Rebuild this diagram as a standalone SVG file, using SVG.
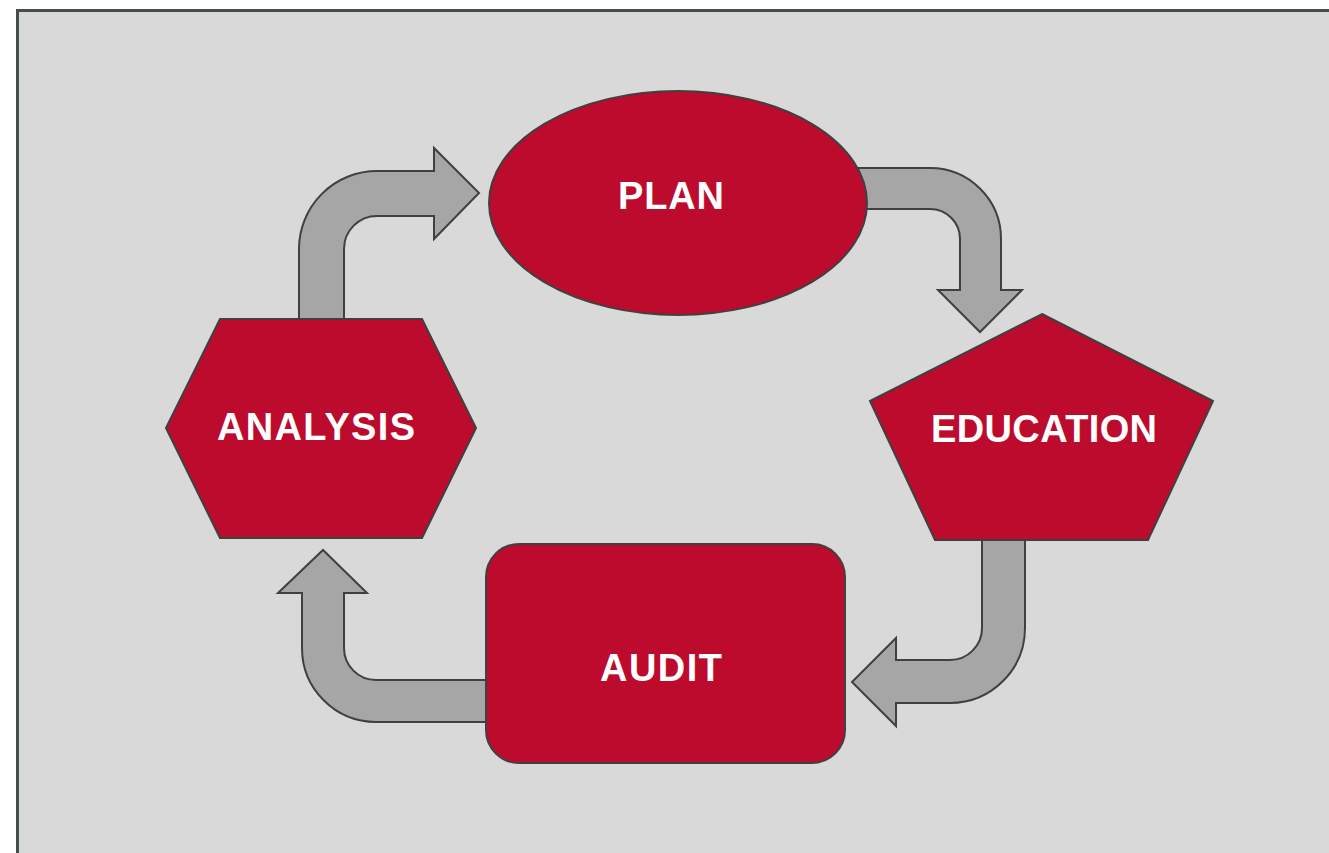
<svg xmlns="http://www.w3.org/2000/svg" width="1329" height="853" viewBox="0 0 1329 853">
  <style>
    .frame { fill: #d9d9d9; stroke: #454d4d; stroke-width: 3; }
    .node { fill: #bc0b2c; stroke: #404040; stroke-width: 2; }
    .flow { fill: #a6a6a6; stroke: #404040; stroke-width: 2; stroke-linejoin: miter; }
    .label { fill: #ffffff; font-family: "Liberation Sans", Arial, sans-serif; font-weight: bold; font-size: 38px; text-anchor: middle; }
  </style>

  <rect x="0" y="0" width="1329" height="853" fill="#ffffff"/>
  <rect class="frame" x="17.5" y="10.5" width="1330" height="860"/>

  <g id="connectors">
    <!-- ANALYSIS up and over to PLAN -->
    <path class="flow" d="M299,322 L299,249 A78,78 0 0 1 377,171 L434,171 L434,148 L479,193 L434,239 L434,216 L377,216 A33,33 0 0 0 344,249 L344,322 Z"/>
    <!-- PLAN across and down to EDUCATION -->
    <path class="flow" d="M850,168 L930,168 A71,71 0 0 1 1001,239 L1001,290 L1022,290 L980,332 L938,290 L960,290 L960,239 A30,30 0 0 0 930,209 L850,209 Z"/>
    <!-- EDUCATION down and back to AUDIT -->
    <path class="flow" d="M982,536 L982,628 A32,32 0 0 1 950,660 L896,660 L896,638 L852,682 L896,726 L896,703 L950,703 A75,75 0 0 0 1025,628 L1025,536 Z"/>
    <!-- AUDIT across and up to ANALYSIS -->
    <path class="flow" d="M495,680 L376,680 A32,32 0 0 1 344,648 L344,593 L367,593 L323,550 L278,593 L302,593 L302,648 A74,74 0 0 0 376,722 L495,722 Z"/>
  </g>

  <g id="plan">
    <ellipse class="node" cx="678" cy="203" rx="189" ry="112"/>
    <text class="label" x="671" y="209" textLength="106">PLAN</text>
  </g>

  <g id="education">
    <polygon class="node" points="1042,314 1213,401 1148,540 935,540 870,401"/>
    <text class="label" x="1044" y="442" textLength="226">EDUCATION</text>
  </g>

  <g id="audit">
    <rect class="node" x="486" y="544" width="359" height="219" rx="33" ry="33"/>
    <text class="label" x="661" y="681" textLength="122">AUDIT</text>
  </g>

  <g id="analysis">
    <polygon class="node" points="220,319 422,319 476,428 422,538 220,538 166,428"/>
    <text class="label" x="316" y="440" textLength="198">ANALYSIS</text>
  </g>
</svg>
